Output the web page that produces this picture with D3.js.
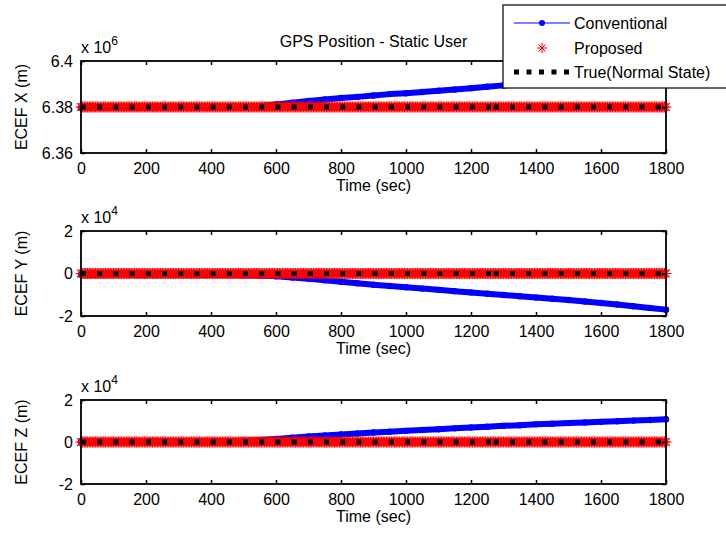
<!DOCTYPE html>
<html>
<head>
<meta charset="utf-8">
<title>GPS Position - Static User</title>
<script src="https://d3js.org/d3.v7.min.js"></script>
<style>
  body { margin: 0; background: #fff; }
  svg { display: block; font-family: "Liberation Sans", Arial, sans-serif; }
</style>
</head>
<body>
<svg id="chart"></svg>
<script>
// conventional receiver solution, read every 50 s
var convTime = [0, 50, 100, 150, 200, 250, 300, 350, 400, 450, 500, 550, 600, 650, 700, 750,
  800, 850, 900, 950, 1000, 1050, 1100, 1150, 1200, 1250, 1300, 1350, 1400, 1450, 1500,
  1550, 1600, 1650, 1700, 1750, 1800];
// ECEF X in 1e6 m
var convX = [6.3796, 6.3796, 6.3797, 6.3796, 6.3796, 6.3797, 6.3796, 6.3796, 6.3797,
  6.3797, 6.3799, 6.3804, 6.3811, 6.3819, 6.3826, 6.3833, 6.3839, 6.3844, 6.3850, 6.3856,
  6.3860, 6.3865, 6.3871, 6.3876, 6.3882, 6.3888, 6.3894, 6.3899, 6.3904, 6.3909, 6.3914,
  6.3919, 6.3924, 6.3929, 6.3934, 6.3939, 6.3944];
// ECEF Y in 1e4 m
var convY = [-0.06, -0.07, -0.05, -0.06, -0.07, -0.06, -0.05, -0.07, -0.06,
  -0.07, -0.08, -0.10, -0.13, -0.19, -0.25, -0.32, -0.39, -0.46, -0.53, -0.59,
  -0.65, -0.71, -0.77, -0.83, -0.89, -0.95, -1.01, -1.07, -1.13, -1.19, -1.25,
  -1.32, -1.39, -1.46, -1.54, -1.62, -1.70];
// ECEF Z in 1e4 m
var convZ = [0.02, 0.03, 0.02, 0.03, 0.02, 0.03, 0.02, 0.03, 0.03,
  0.04, 0.06, 0.09, 0.14, 0.20, 0.26, 0.31, 0.36, 0.41, 0.45, 0.49,
  0.53, 0.57, 0.61, 0.65, 0.69, 0.73, 0.77, 0.80, 0.84, 0.87, 0.90,
  0.93, 0.96, 0.99, 1.02, 1.05, 1.08];

// proposed solution sits on the true position
var proposedTime = d3.range(0, 1801, 5);
var trueValues = [6.38, 0, 0];
// the true line is drawn in two pieces (dot pattern restarts at 1270 s)
var trueTime = [[0, 1270], [1270, 1800]];

var xTicks = [0, 200, 400, 600, 800, 1000, 1200, 1400, 1600, 1800];
var yDomains = [[6.36, 6.4], [-2, 2], [-2, 2]];
var yTicks = [[6.36, 6.38, 6.4], [-2, 0, 2], [-2, 0, 2]];
var yLabels = ["ECEF X (m)", "ECEF Y (m)", "ECEF Z (m)"];
var exponents = ["6", "4", "4"];
var legendLabels = ["Conventional", "Proposed", "True(Normal State)"];

var W = 726, H = 537;
var left = 81, right = 666;
var panels = [{ top: 61, bottom: 153 }, { top: 231, bottom: 316 }, { top: 400, bottom: 484 }];
var fontSize = 16;

var svg = d3.select("#chart").attr("width", W).attr("height", H);
svg.append("rect").attr("width", W).attr("height", H).attr("fill", "#fff");

var x = d3.scaleLinear().domain([0, 1800]).range([left, right]);

function asterisk(r) {
  var a = r * 0.7071;
  return "M0," + (-r) + "V" + r + "M" + (-r) + ",0H" + r +
    "M" + (-a) + "," + (-a) + "L" + a + "," + a + "M" + (-a) + "," + a + "L" + a + "," + (-a);
}

var convSeries = [convX, convY, convZ];

panels.forEach(function (p, k) {
  var y = d3.scaleLinear().domain(yDomains[k]).range([p.bottom, p.top]);
  var g = svg.append("g");
  var conv = convTime.map(function (t, i) { return [t, convSeries[k][i]]; });
  var line = d3.line().x(function (d) { return x(d[0]); }).y(function (d) { return y(d[1]); });

  // conventional: dense dot markers form a thick band
  g.append("path").datum(conv).attr("d", line)
    .attr("fill", "none").attr("stroke", "#0000ff").attr("stroke-width", 6)
    .attr("stroke-linejoin", "round").attr("stroke-linecap", "round");
  g.selectAll(".dot").data(conv).enter().append("circle")
    .attr("cx", function (d) { return x(d[0]); })
    .attr("cy", function (d) { return y(d[1]); })
    .attr("r", 3.2).attr("fill", "#0000ff");

  // proposed: red asterisks
  g.selectAll(".ast").data(proposedTime).enter().append("path")
    .attr("d", asterisk(5.5))
    .attr("transform", function (t) { return "translate(" + x(t) + "," + y(trueValues[k]) + ")"; })
    .attr("fill", "none").attr("stroke", "#ff0000").attr("stroke-width", 1.2);

  // true position: thick dotted black line
  trueTime.forEach(function (seg) {
    g.append("path").datum(seg.map(function (t) { return [t, trueValues[k]]; }))
      .attr("d", line).attr("fill", "none").attr("stroke", "#000")
      .attr("stroke-width", 5).attr("stroke-dasharray", "5,11.2");
  });

  // axes with inward ticks on all four sides
  var axB = g.append("g").attr("transform", "translate(0," + p.bottom + ")")
    .call(d3.axisBottom(x).tickValues(xTicks).tickSizeInner(-4).tickSizeOuter(0)
      .tickPadding(7).tickFormat(d3.format("d")));
  var axT = g.append("g").attr("transform", "translate(0," + p.top + ")")
    .call(d3.axisTop(x).tickValues(xTicks).tickSizeInner(-4).tickSizeOuter(0).tickFormat(""));
  var axL = g.append("g").attr("transform", "translate(" + left + ",0)")
    .call(d3.axisLeft(y).tickValues(yTicks[k]).tickSizeInner(-4).tickSizeOuter(0)
      .tickPadding(8).tickFormat(function (d) { return String(+d.toFixed(2)); }));
  var axR = g.append("g").attr("transform", "translate(" + right + ",0)")
    .call(d3.axisRight(y).tickValues(yTicks[k]).tickSizeInner(-4).tickSizeOuter(0).tickFormat(""));
  [axB, axT, axL, axR].forEach(function (a) {
    a.select(".domain").remove();
    a.selectAll("line").attr("stroke", "#000").attr("stroke-width", 1.5);
    a.selectAll("text").attr("font-size", fontSize).attr("fill", "#000")
      .attr("font-family", "Liberation Sans, Arial, sans-serif");
  });
  axB.selectAll("text").attr("dy", "0.85em");

  g.append("rect").attr("x", left).attr("y", p.top)
    .attr("width", right - left).attr("height", p.bottom - p.top)
    .attr("fill", "none").attr("stroke", "#000").attr("stroke-width", 1.8);

  // exponent label
  var ex = g.append("text").attr("x", left).attr("y", p.top - 8)
    .attr("font-size", fontSize).text("x 10");
  ex.append("tspan").attr("dy", -8).attr("font-size", 12).text(exponents[k]);

  // axis titles
  g.append("text").attr("x", (left + right) / 2).attr("y", p.bottom + 38)
    .attr("text-anchor", "middle").attr("font-size", fontSize).text("Time (sec)");
  g.append("text")
    .attr("transform", "translate(27," + (p.top + p.bottom) / 2 + ") rotate(-90)")
    .attr("text-anchor", "middle").attr("font-size", fontSize).text(yLabels[k]);
});

// title
svg.append("text").attr("x", (left + right) / 2).attr("y", 47)
  .attr("text-anchor", "middle").attr("font-size", 16).text("GPS Position - Static User");

// legend
var leg = svg.append("g");
leg.append("rect").attr("x", 503).attr("y", 5).attr("width", 240).attr("height", 83)
  .attr("fill", "#fff").attr("stroke", "#000").attr("stroke-width", 1.2);
var rows = [23, 48, 72];
leg.append("line").attr("x1", 514).attr("x2", 570).attr("y1", rows[0]).attr("y2", rows[0])
  .attr("stroke", "#0000ff").attr("stroke-width", 1);
leg.append("circle").attr("cx", 542).attr("cy", rows[0]).attr("r", 3).attr("fill", "#0000ff");
leg.append("path").attr("d", asterisk(5)).attr("transform", "translate(542," + rows[1] + ")")
  .attr("fill", "none").attr("stroke", "#ff0000").attr("stroke-width", 1);
leg.append("line").attr("x1", 514).attr("x2", 570).attr("y1", rows[2]).attr("y2", rows[2])
  .attr("stroke", "#000").attr("stroke-width", 5).attr("stroke-dasharray", "5,7.5");
leg.selectAll(".lt").data(legendLabels).enter().append("text")
  .attr("x", 574).attr("y", function (d, i) { return rows[i]; })
  .attr("dy", "0.36em").attr("font-size", fontSize).text(function (d) { return d; });
</script>
</body>
</html>
